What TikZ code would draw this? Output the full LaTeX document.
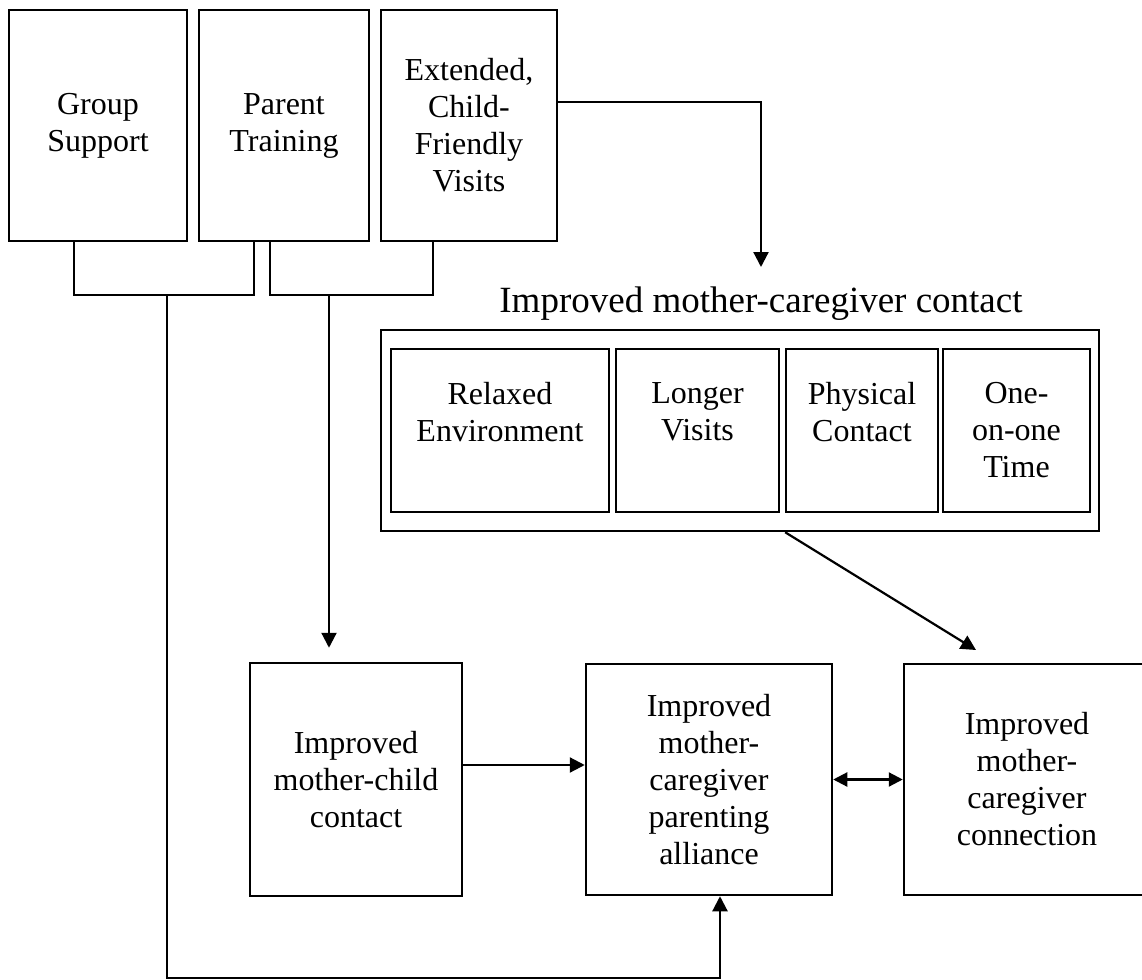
\documentclass[tikz,border=0pt]{standalone}
\usepackage{fontspec}
\setmainfont{Liberation Serif}
\usetikzlibrary{arrows.meta,calc}
\begin{document}
\begin{tikzpicture}[x=0.5pt,y=-0.5pt,
  box/.style={draw, line width=1.25pt, align=center, inner sep=0pt,
    font=\fontsize{16}{18.5}\selectfont},
  link/.style={line width=1.1pt},
  arr/.style={link, -{Triangle[length=7.5pt,width=7.5pt]}},
]
\useasboundingbox (0,0) rectangle (1142,980);

% top row of programme components
\node[box, minimum width=89pt, minimum height=115.5pt] (grp) at (98,125.5) {Group\\Support};
\node[box, minimum width=85pt, minimum height=115.5pt] (par) at (284,125.5) {Parent\\Training};
\node[box, minimum width=88pt, minimum height=115.5pt] (ext) at (469,125.5) {Extended,\\Child-\\Friendly\\Visits};

% contact group with its four aspects
\node[anchor=base, inner sep=0pt, font=\fontsize{18.5}{22}\selectfont] (ttl) at (761,312) {Improved mother-caregiver contact};
\node[box, minimum width=359pt, minimum height=100.5pt] (outer) at (740,430.5) {};
\node[box, minimum width=109pt, minimum height=81.5pt] (rel) at (500,430.5) {Relaxed\\Environment\\\mbox{}};
\node[box, minimum width=81.5pt, minimum height=81.5pt] (lng) at (697.5,430.5) {Longer\\Visits\\\mbox{}};
\node[box, minimum width=76pt, minimum height=81.5pt] (phy) at (862,430.5) {Physical\\Contact\\\mbox{}};
\node[box, minimum width=73.5pt, minimum height=81.5pt] (one) at (1016.5,430.5) {One-\\on-one\\Time};

% outcomes
\node[box, minimum width=106pt, minimum height=116.5pt] (mc) at (356,779.5) {Improved\\mother-child\\contact};
\node[box, minimum width=123pt, minimum height=115.5pt] (al) at (709,779.5) {Improved\\mother-\\caregiver\\parenting\\alliance};
\node[box, minimum width=123pt, minimum height=115.5pt] (conn) at (1027,779.5) {Improved\\mother-\\caregiver\\connection};

% routing points
\coordinate (j1) at (74,295);
\coordinate (j2) at (254,295);
\coordinate (j3) at (167,295);
\coordinate (j4) at (167,978);
\coordinate (j5) at (720,978);
\coordinate (k1) at (270,295);
\coordinate (k2) at (433,295);
\coordinate (k3) at (329,295);
\coordinate (e1) at (761,102);
\coordinate (e2) at (761,267);
\coordinate (d1) at (976,650);

% brackets joining the top boxes
\draw[link] (grp.south -| j1) -- (j1) -- (j2) -- (par.south -| j2);
\draw[link] (par.south -| k1) -- (k1) -- (k2) -- (ext.south -| k2);

% Group Support + Parent Training -> parenting alliance
\draw[arr] (j3) -- (j4) -- (j5) -- (al.south -| j5);
% Parent Training + Visits -> mother-child contact
\draw[arr, shorten >=7pt] (k3) -- (mc.north -| k3);
% Visits -> contact group
\draw[arr] (ext.east |- e1) -- (e1) -- (e2);
% contact group -> connection
\draw[arr] ($(outer.south west)!0.5627!(outer.south east)$) -- (d1);
% mother-child contact -> alliance
\draw[arr] ([yshift=7.25pt]mc.east) -- ([yshift=7.25pt]al.west);
% alliance <-> connection
\draw[link, {Triangle[length=7pt,width=7pt]}-{Triangle[length=7pt,width=7pt]}] (al.east) -- (conn.west);
\end{tikzpicture}
\end{document}
